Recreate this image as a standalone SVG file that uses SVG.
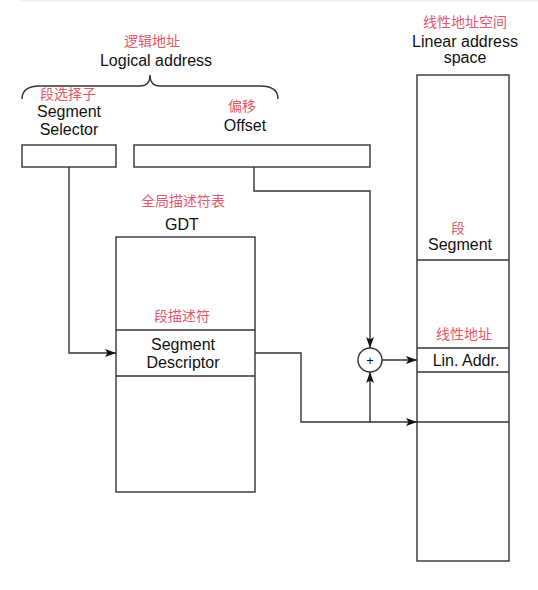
<svg xmlns="http://www.w3.org/2000/svg" width="538" height="590" viewBox="0 0 538 590">
<style>
.box{fill:#fff;stroke:#333;stroke-width:1.4}
.ln{fill:none;stroke:#333;stroke-width:1.4}
.en{font-family:"Liberation Sans",Arial,sans-serif;font-size:16px;fill:#111;text-anchor:middle}
.cn{font-family:"Noto Sans CJK SC",sans-serif;font-size:14px;fill:#e5576b;text-anchor:middle}
</style>
<defs>
<marker id="arr" markerUnits="userSpaceOnUse" markerWidth="12" markerHeight="9" refX="11" refY="4" orient="auto">
<path d="M0,0 L11,4 L0,8 L2.5,4 Z" fill="#111"/>
</marker>
</defs>
<rect width="538" height="590" fill="#fff"/>
<rect x="20" y="0" width="518" height="1.5" fill="#eeeeee"/>

<g id="logical-address">
<text class="cn" x="152" y="46">逻辑地址</text>
<text class="en" x="156" y="66">Logical address</text>
<path class="ln" d="M22,99 Q22,86 40,86 L140,86 Q150,86 150,75 Q150,86 160,86 L260,86 Q278,86 278,99"/>
</g>

<g id="segment-selector">
<text class="cn" x="68" y="99" font-size="13.5">段选择子</text>
<text class="en" x="69" y="117">Segment</text>
<text class="en" x="69" y="135">Selector</text>
<rect class="box" x="22" y="145" width="94" height="22"/>
</g>

<g id="offset">
<text class="cn" x="242" y="111">偏移</text>
<text class="en" x="245" y="131">Offset</text>
<rect class="box" x="134" y="145" width="236" height="22"/>
</g>

<g id="gdt">
<text class="cn" x="183" y="206">全局描述符表</text>
<text class="en" x="182" y="230">GDT</text>
<rect class="box" x="116" y="237" width="139" height="255"/>
<line class="ln" x1="116" y1="330" x2="255" y2="330"/>
<line class="ln" x1="116" y1="376" x2="255" y2="376"/>
<text class="cn" x="182" y="321">段描述符</text>
<text class="en" x="183" y="350">Segment</text>
<text class="en" x="183" y="368">Descriptor</text>
</g>

<g id="linear-address-space">
<text class="cn" x="465" y="27">线性地址空间</text>
<text class="en" x="465" y="47">Linear address</text>
<text class="en" x="465" y="63">space</text>
<rect class="box" x="417" y="75" width="92" height="486"/>
<line class="ln" x1="417" y1="260" x2="509" y2="260"/>
<line class="ln" x1="417" y1="348" x2="509" y2="348"/>
<line class="ln" x1="417" y1="372" x2="509" y2="372"/>
<line class="ln" x1="417" y1="422" x2="509" y2="422"/>
<text class="cn" x="458" y="233">段</text>
<text class="en" x="460" y="250">Segment</text>
<text class="cn" x="464" y="339">线性地址</text>
<text class="en" x="466" y="366">Lin. Addr.</text>
</g>

<g id="adder">
<circle class="box" cx="370" cy="360" r="12"/>
<text x="370" y="364.5" font-family="Liberation Sans,Arial,sans-serif" font-size="13" text-anchor="middle" fill="#111">+</text>
</g>

<g id="connectors">
<path class="ln" d="M69,167 L69,353 L116,353" marker-end="url(#arr)"/>
<path class="ln" d="M254,167 L254,191 L370,191 L370,348" marker-end="url(#arr)"/>
<path class="ln" d="M382,360 L417,360" marker-end="url(#arr)"/>
<path class="ln" d="M255,353 L301,353 L301,422 L417,422" marker-end="url(#arr)"/>
<path class="ln" d="M370,422 L370,372" marker-end="url(#arr)"/>
</g>
</svg>
